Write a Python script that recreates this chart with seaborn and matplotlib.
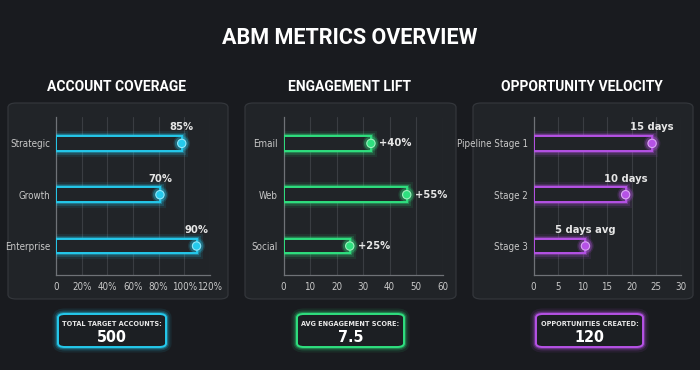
import matplotlib
matplotlib.use("Agg")
import matplotlib.pyplot as plt
import matplotlib.patheffects as pe
from matplotlib import font_manager as fm
from matplotlib.patches import FancyBboxPatch
import seaborn as sns

# chart data
coverage_cats = ["Strategic", "Growth", "Enterprise"]
coverage_vals = [98, 81, 109.5]
coverage_labels = ["85%", "70%", "90%"]

engagement_cats = ["Email", "Web", "Social"]
engagement_vals = [33, 46.5, 25]
engagement_labels = ["+40%", "+55%", "+25%"]

velocity_cats = ["Pipeline Stage 1", "Stage 2", "Stage 3"]
velocity_vals = [24.2, 18.8, 10.6]
velocity_labels = ["15 days", "10 days", "5 days avg"]

panel_titles = ["ACCOUNT COVERAGE", "ENGAGEMENT LIFT", "OPPORTUNITY VELOCITY"]
kpi_names = ["TOTAL TARGET ACCOUNTS:", "AVG ENGAGEMENT SCORE:", "OPPORTUNITIES CREATED:"]
kpi_values = ["500", "7.5", "120"]

BG = "#191b1f"
PANEL = "#212428"
PANEL_EDGE = "#33363b"
COLORS = ["#25c9ec", "#2fe07f", "#b652e6"]
LIGHT = ["#8fe8fb", "#9bf2bd", "#dba6f5"]

sns.set_theme(style="dark")

# pick a narrow face if one is installed (the reference uses a condensed font)
installed = {(f.name, f.stretch) for f in fm.fontManager.ttflist}
names = {n for n, _ in installed}
STRETCH = "normal"
if "Liberation Sans Narrow" in names:
    NARROW = ["Liberation Sans Narrow", "DejaVu Sans"]
elif any(n == "DejaVu Sans" and s == "condensed" for n, s in installed):
    NARROW = ["DejaVu Sans"]
    STRETCH = "condensed"
else:
    NARROW = ["Roboto", "DejaVu Sans"]
plt.rcParams["font.family"] = NARROW
plt.rcParams["font.stretch"] = STRETCH

fig = plt.figure(figsize=(7, 3.7), dpi=100, facecolor=BG)


def glow(color, widths=(8, 5, 3), alphas=(0.09, 0.18, 0.35)):
    effects = [pe.Stroke(linewidth=w, foreground=color, alpha=a) for w, a in zip(widths, alphas)]
    return effects + [pe.Normal()]


def fx(px):
    return px / 700


def fy(py):
    return 1 - py / 370


# background panels (pixel boxes measured on the reference)
panel_boxes = [(8, 228), (245, 456), (473, 693)]
for (x0, x1) in panel_boxes:
    p = FancyBboxPatch((fx(x0), fy(299)), fx(x1 - x0), fy(103) - fy(299),
                       boxstyle="round,pad=0,rounding_size=0.012",
                       transform=fig.transFigure, facecolor=PANEL,
                       edgecolor=PANEL_EDGE, linewidth=0.9, zorder=-1)
    fig.patches.append(p)

fig.text(0.5, fy(38), "ABM METRICS OVERVIEW", ha="center", va="center",
         color="white", fontsize=15.5, fontweight="bold",
         family=["Roboto", "DejaVu Sans"], stretch="normal")

title_x = [117, 350, 582]
for tx, t in zip(title_x, panel_titles):
    fig.text(fx(tx), fy(87), t, ha="center", va="center", color="white",
             fontsize=10, fontweight="bold", family=["Roboto", "DejaVu Sans"],
             stretch="normal")

axes_pos = [(56, 210), (283.5, 442.5), (533.5, 680.5)]
datasets = [
    (coverage_cats, coverage_vals, coverage_labels, 120, 20, True),
    (engagement_cats, engagement_vals, engagement_labels, 60, 10, False),
    (velocity_cats, velocity_vals, velocity_labels, 30, 5, False),
]

for i, ((x0, x1), (cats, vals, labels, xmax, step, pct)) in enumerate(zip(axes_pos, datasets)):
    ax = fig.add_axes([fx(x0), fy(275), fx(x1 - x0), fy(116.7) - fy(275)])
    ax.set_facecolor("none")
    c = COLORS[i]

    sns.barplot(x=vals, y=cats, orient="h", width=0.29, color=c, ax=ax)
    for bar in ax.patches:
        bar.set_facecolor(PANEL)
        bar.set_edgecolor(c)
        bar.set_linewidth(1.4)
        bar.set_zorder(3)
        bar.set_path_effects(glow(c))

    ys = list(range(len(cats)))
    ax.scatter(vals, ys, s=36, color=c, edgecolor=LIGHT[i], linewidth=0.8, zorder=5,
               path_effects=glow(c, widths=(6, 4), alphas=(0.15, 0.3)))

    for v, y, lab in zip(vals, ys, labels):
        if i == 1:
            ax.annotate(lab, (v, y), xytext=(6, 0), textcoords="offset points",
                        ha="left", va="center", color="#e6e6e6", fontsize=8,
                        fontweight="bold")
        else:
            ax.annotate(lab, (v, y), xytext=(0, 11.5), textcoords="offset points",
                        ha="center", va="center", color="#e6e6e6", fontsize=8,
                        fontweight="bold")

    ticks = list(range(0, xmax + 1, step))
    ax.set_xlim(0, xmax)
    ax.set_ylim(2.565, -0.52)
    ax.set_xticks(ticks)
    if pct:
        ax.set_xticklabels(["0"] + [f"{t}%" for t in ticks[1:]])
    ax.grid(axis="x", color="#3a3d42", linewidth=0.8)
    ax.grid(axis="y", visible=False)
    ax.set_axisbelow(True)
    ax.tick_params(axis="both", length=0, colors="#c9c9c9", labelsize=7)
    ax.tick_params(axis="y", pad=4)
    ax.tick_params(axis="x", pad=5)
    for s in ["top", "right"]:
        ax.spines[s].set_visible(False)
    for s in ["left", "bottom"]:
        ax.spines[s].set_color("#6f7277")
        ax.spines[s].set_linewidth(0.9)
    ax.set_xlabel("")
    ax.set_ylabel("")

# KPI boxes under each panel
kpi_x = [(58, 166), (297, 404), (536, 643)]
for i, ((x0, x1), name, val) in enumerate(zip(kpi_x, kpi_names, kpi_values)):
    c = COLORS[i]
    box = FancyBboxPatch((fx(x0), fy(347)), fx(x1 - x0), fy(314) - fy(347),
                         boxstyle="round,pad=0,rounding_size=0.01",
                         transform=fig.transFigure, facecolor="#1c1f23",
                         edgecolor=c, linewidth=1.4, zorder=2)
    box.set_path_effects(glow(c))
    fig.patches.append(box)
    cx = fx((x0 + x1) / 2)
    fig.text(cx, fy(324), name, ha="center", va="center", color="#e8e8e8",
             fontsize=5.2, fontweight="bold", zorder=3)
    fig.text(cx, fy(338), val, ha="center", va="center", color="white",
             fontsize=11.5, fontweight="bold", zorder=3)

fig.savefig("out.png", dpi=100, facecolor=BG)
